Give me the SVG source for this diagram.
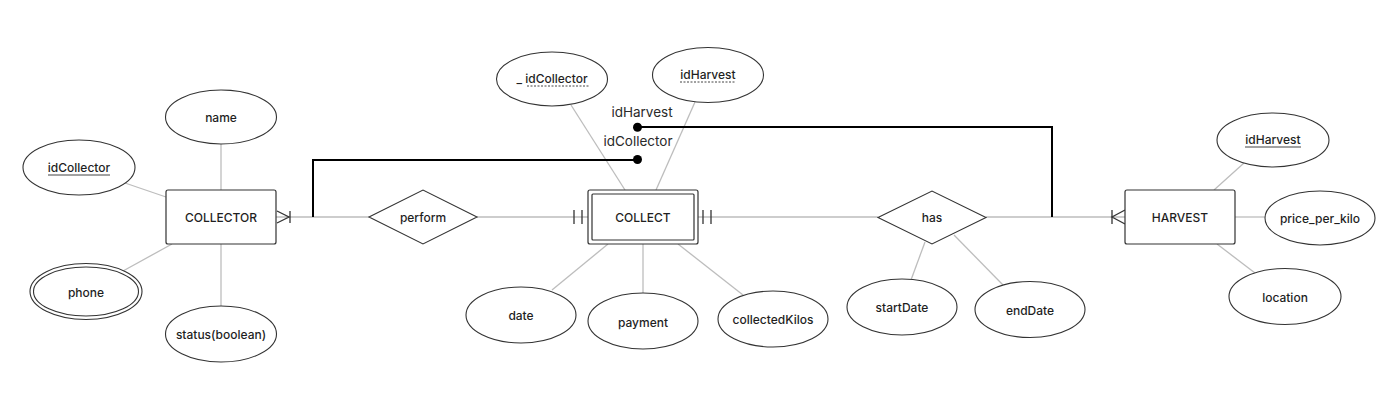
<svg xmlns="http://www.w3.org/2000/svg" width="1388" height="411" viewBox="0 0 1388 411">
<style>
  .bg{fill:#ffffff}
  .ent{fill:#ffffff;stroke:#333333;stroke-width:1.2}
  .attr{fill:#ffffff;stroke:#333333;stroke-width:1.1}
  .rel{fill:#ffffff;stroke:#333333;stroke-width:1.1}
  .conn{stroke:#bdbdbd;stroke-width:1.3;fill:none}
  .mark{stroke:#333333;stroke-width:1.3;fill:none}
  .fk{stroke:#000000;stroke-width:2;fill:none}
  .t{font-family:Inter,"Liberation Sans",Arial,sans-serif;font-size:12px;font-weight:500;fill:#1f1f1f;text-anchor:middle;dominant-baseline:central}
  .lbl{font-family:Inter,"Liberation Sans",Arial,sans-serif;font-size:13.5px;fill:#2a2a2a;text-anchor:middle}
  .ul{stroke:#444444;stroke-width:1}
  .dul{stroke:#444444;stroke-width:1;stroke-dasharray:2 1.5}
</style>
<rect class="bg" x="0" y="0" width="1388" height="411"/>
<g id="connectors">
  <line class="conn" x1="221" y1="144" x2="221" y2="190"/>
  <line class="conn" x1="125" y1="183" x2="166" y2="197"/>
  <line class="conn" x1="123" y1="271" x2="172" y2="244"/>
  <line class="conn" x1="221" y1="244" x2="221" y2="306"/>
  <line class="conn" x1="276" y1="217" x2="369" y2="217"/>
  <line class="conn" x1="477" y1="217" x2="588" y2="217"/>
  <line class="conn" x1="571" y1="105" x2="625" y2="190"/>
  <line class="conn" x1="695" y1="102" x2="656" y2="190"/>
  <line class="conn" x1="608" y1="244" x2="552" y2="290"/>
  <line class="conn" x1="643" y1="244" x2="643" y2="293"/>
  <line class="conn" x1="678" y1="244" x2="743" y2="295"/>
  <line class="conn" x1="698" y1="217" x2="878" y2="217"/>
  <line class="conn" x1="925" y1="242" x2="911" y2="280"/>
  <line class="conn" x1="954" y1="235" x2="1003" y2="285"/>
  <line class="conn" x1="986" y1="217" x2="1125" y2="217"/>
  <line class="conn" x1="1244" y1="163" x2="1214" y2="190"/>
  <line class="conn" x1="1235" y1="217" x2="1265" y2="217"/>
  <line class="conn" x1="1217" y1="244" x2="1255" y2="273"/>
  <!-- cardinality marks -->
  <polyline class="mark" points="277,211 289,217 277,223"/>
  <line class="mark" x1="290" y1="211" x2="290" y2="223"/>
  <line class="mark" x1="574" y1="210" x2="574" y2="224"/>
  <line class="mark" x1="582" y1="210" x2="582" y2="224"/>
  <line class="mark" x1="703" y1="210" x2="703" y2="224"/>
  <line class="mark" x1="711" y1="210" x2="711" y2="224"/>
  <polyline class="mark" points="1125,210 1112,217 1125,224"/>
  <line class="mark" x1="1112" y1="210" x2="1112" y2="224"/>
  <!-- foreign key lines -->
  <polyline class="fk" points="313,217 313,160 637,160"/>
  <circle cx="637.5" cy="159.5" r="4.5" fill="#000000"/>
  <polyline class="fk" points="1052,217 1052,127 637,127"/>
  <circle cx="637.5" cy="127.3" r="4.5" fill="#000000"/>
  <text class="lbl" x="642" y="117">idHarvest</text>
  <text class="lbl" x="638" y="146">idCollector</text>
</g>
<g id="collector">
  <rect class="ent" x="166" y="190" width="110" height="54" rx="2"/>
  <text class="t" x="221" y="217">COLLECTOR</text>
</g>
<g id="collector-name">
  <ellipse class="attr" cx="221" cy="117" rx="55.5" ry="27"/>
  <text class="t" x="221" y="117">name</text>
</g>
<g id="collector-idCollector">
  <ellipse class="attr" cx="79" cy="167.5" rx="56" ry="27.5"/>
  <text class="t" x="79" y="167">idCollector</text>
  <line class="ul" x1="48" y1="175" x2="110" y2="175"/>
</g>
<g id="collector-phone">
  <ellipse class="attr" cx="86" cy="291.5" rx="56" ry="28"/>
  <ellipse class="attr" cx="86" cy="291.5" rx="52.5" ry="24.5"/>
  <text class="t" x="86" y="292">phone</text>
</g>
<g id="collector-status">
  <ellipse class="attr" cx="221" cy="334" rx="55.5" ry="28"/>
  <text class="t" x="221" y="334">status(boolean)</text>
</g>
<g id="perform">
  <polygon class="rel" points="369,217 423,190 477,217 423,244"/>
  <text class="t" x="423" y="217">perform</text>
</g>
<g id="collect">
  <rect class="ent" x="588" y="190" width="110" height="54" rx="2"/>
  <rect class="ent" x="592" y="194" width="102" height="46" rx="1"/>
  <text class="t" x="643" y="217">COLLECT</text>
</g>
<g id="collect-idCollector">
  <ellipse class="attr" cx="552" cy="79" rx="55.5" ry="27"/>
  <text class="t" x="552" y="78">_ idCollector</text>
  <line class="dul" x1="527" y1="86" x2="590" y2="86"/>
</g>
<g id="collect-idHarvest">
  <ellipse class="attr" cx="708" cy="75" rx="55.5" ry="27.5"/>
  <text class="t" x="708" y="74">idHarvest</text>
  <line class="dul" x1="680" y1="82" x2="736" y2="82"/>
</g>
<g id="collect-date">
  <ellipse class="attr" cx="521" cy="315" rx="55" ry="28"/>
  <text class="t" x="521" y="315">date</text>
</g>
<g id="collect-payment">
  <ellipse class="attr" cx="643" cy="321" rx="55" ry="28"/>
  <text class="t" x="643" y="322">payment</text>
</g>
<g id="collect-collectedKilos">
  <ellipse class="attr" cx="773" cy="319" rx="55" ry="28"/>
  <text class="t" x="773" y="319">collectedKilos</text>
</g>
<g id="has">
  <polygon class="rel" points="878,217.5 932,191 986,217.5 932,244"/>
  <text class="t" x="932" y="217">has</text>
</g>
<g id="has-startDate">
  <ellipse class="attr" cx="902" cy="307" rx="55" ry="28"/>
  <text class="t" x="902" y="307">startDate</text>
</g>
<g id="has-endDate">
  <ellipse class="attr" cx="1030" cy="309.5" rx="55" ry="28"/>
  <text class="t" x="1030" y="310">endDate</text>
</g>
<g id="harvest">
  <rect class="ent" x="1125" y="190" width="110" height="54" rx="2"/>
  <text class="t" x="1180" y="217">HARVEST</text>
</g>
<g id="harvest-idHarvest">
  <ellipse class="attr" cx="1273" cy="140" rx="56" ry="27"/>
  <text class="t" x="1273" y="139">idHarvest</text>
  <line class="ul" x1="1245" y1="147" x2="1301" y2="147"/>
</g>
<g id="harvest-price">
  <ellipse class="attr" cx="1320" cy="218" rx="55" ry="27"/>
  <text class="t" x="1320" y="218">price_per_kilo</text>
</g>
<g id="harvest-location">
  <ellipse class="attr" cx="1285" cy="296.5" rx="56" ry="28"/>
  <text class="t" x="1285" y="297">location</text>
</g>
</svg>
